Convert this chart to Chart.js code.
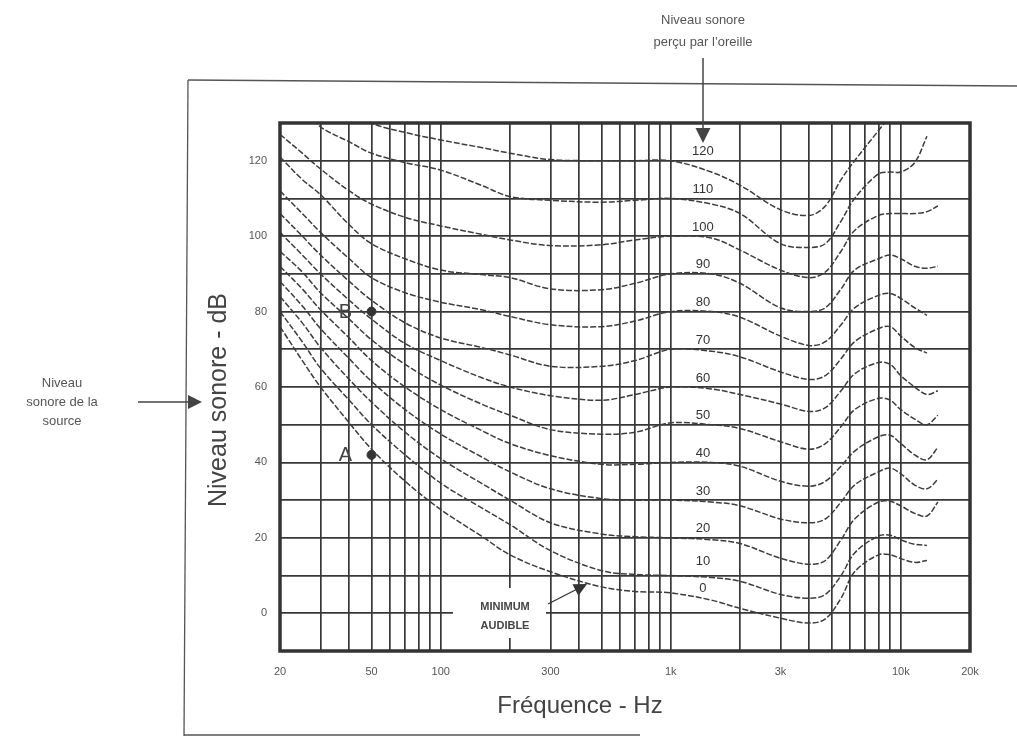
<!DOCTYPE html>
<html><head><meta charset="utf-8">
<script src="https://cdn.jsdelivr.net/npm/chart.js@4/dist/chart.umd.min.js"></script>
<style>html,body{margin:0;padding:0;background:#fff}#wrap{width:1017px;height:738px;position:relative}</style>
</head><body><div id="wrap"><canvas id="c"></canvas></div>
<script>
// ---- data ----
const frequencies = [20, 25, 30, 40, 50, 70, 100, 150, 200, 300, 500, 700, 1000, 1500, 2000, 3000, 4000, 4700, 5500, 6300, 8000, 9000, 10000, 11500, 13000, 14500];
const phon0   = [76, 67, 60, 50.5, 43.5, 35, 27.5, 20.5, 15.5, 11, 7, 5.8, 5.4, 3.5, 1.3, -1.3, -2.6, -1.5, 4, 11, 15.5, 15.5, 14.5, 13.5, 14, null];
const phon10  = [80, 72, 65, 56.5, 50, 42, 34.5, 28, 23.5, 16.6, 11.3, 10.3, 10, 9.5, 8.5, 5, 4, 5, 10, 16, 20.5, 20.7, 19.5, 18.3, 18, null];
const phon20  = [84, 77, 70.5, 62, 56, 48, 41, 34.5, 30, 24, 21, 20.3, 20, 19.5, 18.5, 14.6, 13, 14, 19.5, 25, 29.5, 29.7, 28.5, 26.5, 25.8, 29.5];
const phon30  = [88, 81.5, 75.5, 67.5, 61.5, 54, 47.5, 41.5, 37.5, 33, 30.4, 30, 30, 29.5, 28.5, 25, 24, 25, 29.5, 34, 37.5, 38.5, 37, 34, 33, 35.5];
const phon40  = [92, 86, 80.5, 73, 67, 60, 54, 48.5, 45, 41.8, 39.5, 39.5, 40, 40, 39, 35, 33.7, 35, 39, 43, 46.8, 47.2, 45, 42, 40.7, 44];
const phon50  = [96, 90.5, 85, 78, 72.5, 66, 60.5, 55.5, 52.5, 48.7, 47.5, 48, 50.5, 50, 49, 45.5, 43.5, 45, 49.5, 54, 57, 56.5, 54, 51.5, 50, 52.5];
const phon60  = [101, 95, 90, 83, 78, 71.5, 67, 62.5, 60, 57.7, 56.5, 58, 60, 59.5, 58, 55.5, 53.5, 54.5, 59, 63.5, 66.5, 66, 63, 60, 58, 59];
const phon70  = [106, 100, 95, 88, 83, 77, 73, 70.5, 68.5, 65.5, 65.5, 67, 70, 69.5, 68, 64, 62, 63, 67.5, 72, 75.5, 76, 73.5, 70.5, 69, null];
const phon80  = [112, 106, 101, 94, 89, 85, 82.5, 80.5, 78.7, 76.5, 76, 77.5, 80, 80, 78.5, 73.5, 71, 72, 76.5, 81, 84.3, 84.8, 83.5, 81, 79, null];
const phon90  = [121, 115, 111, 103, 98, 94, 91, 89.8, 89, 86, 85.8, 87.5, 90, 90, 87.5, 81, 80, 81, 86, 91, 94, 95, 94, 92, 91.5, 92];
const phon100 = [127, 122, 117.8, 112, 108.5, 105, 102.7, 100.5, 99, 97.5, 97.7, 99, 100, 99.5, 96.3, 91, 89, 90.5, 96, 101.5, 105.5, 106, 106, 106, 106.5, 108];
const phon110 = [140, 134, 129, 125, 122, 119.5, 117.5, 113.5, 110.5, 109.5, 109, 109.5, 110, 108.5, 106, 98, 97, 98, 104, 110, 116.5, 117, 117, 119.5, 126.5, null];
const phon120 = [null, null, 138, 134, 130, 127.5, 125.5, 123.5, 122, 120.3, 120, 120, 120, 117, 113.5, 107, 105.5, 108, 115, 120, 128, 132, null, null, null, null];
const curveLevels = [0, 10, 20, 30, 40, 50, 60, 70, 80, 90, 100, 110, 120];
const curveValues = [phon0, phon10, phon20, phon30, phon40, phon50, phon60, phon70, phon80, phon90, phon100, phon110, phon120];

const gridFrequencies = [20,30,40,50,60,70,80,90,100,200,300,400,500,600,700,800,900,1000,2000,3000,4000,5000,6000,7000,8000,9000,10000,20000];
const xTickLabels = {20:'20', 50:'50', 100:'100', 300:'300', 1000:'1k', 3000:'3k', 10000:'10k', 20000:'20k'};
const gridLevels = [-10,0,10,20,30,40,50,60,70,80,90,100,110,120,130];
const yTickLabels = [0,20,40,60,80,100,120];

const pointNames = ['A', 'B'];
const pointFreqs = [50, 50];
const pointLevels = [42, 80];

// ---- chart ----
const FONT = "'Liberation Sans', Arial, sans-serif";
const INK = '#383838';

const datasets = curveLevels.map((lv, i) => ({
  label: lv + ' phon',
  data: frequencies.map((f, j) => ({x: f, y: curveValues[i][j]})),
  borderColor: '#3c3c3c',
  borderWidth: 1.5,
  borderDash: [6, 2],
  pointRadius: 0,
  tension: 0.35,
  spanGaps: false,
  fill: false
}));
datasets.push({
  type: 'scatter',
  label: 'points',
  data: pointFreqs.map((f, i) => ({x: f, y: pointLevels[i]})),
  pointRadius: 4.5,
  pointBackgroundColor: '#333',
  pointBorderColor: '#333',
  showLine: false
});

function arrow(ctx, x1, y1, x2, y2, head) {
  const a = Math.atan2(y2 - y1, x2 - x1);
  ctx.beginPath(); ctx.moveTo(x1, y1); ctx.lineTo(x2 - Math.cos(a) * head * 0.8, y2 - Math.sin(a) * head * 0.8); ctx.stroke();
  ctx.beginPath();
  ctx.moveTo(x2, y2);
  ctx.lineTo(x2 - head * Math.cos(a) + head * 0.5 * Math.sin(a), y2 - head * Math.sin(a) - head * 0.5 * Math.cos(a));
  ctx.lineTo(x2 - head * Math.cos(a) - head * 0.5 * Math.sin(a), y2 - head * Math.sin(a) + head * 0.5 * Math.cos(a));
  ctx.closePath(); ctx.fill();
}

const annot = {
  id: 'annot',
  beforeDatasetsDraw(chart) {
    const ctx = chart.ctx;
    ctx.save();
    ctx.fillStyle = '#fff';
    ctx.fillRect(453, 588, 93, 50);
    ctx.restore();
  },
  afterDatasetsDraw(chart) {
    const ctx = chart.ctx, a = chart.chartArea, sx = chart.scales.x, sy = chart.scales.y;
    ctx.save();
    ctx.strokeStyle = '#333'; ctx.lineWidth = 3.5;
    ctx.strokeRect(a.left, a.top, a.right - a.left, a.bottom - a.top);
    ctx.fillStyle = '#333'; ctx.font = '13px ' + FONT; ctx.textAlign = 'center'; ctx.textBaseline = 'middle';
    curveLevels.forEach(lv => {
      const off = lv === 0 ? 6.5 : (lv === 10 ? 3.8 : 2.4);
      ctx.fillText(String(lv), sx.getPixelForValue(1380), sy.getPixelForValue(lv + off));
    });
    ctx.font = '20px ' + FONT; ctx.fillStyle = '#444';
    pointNames.forEach((n, i) => {
      ctx.fillText(n, sx.getPixelForValue(pointFreqs[i]) - 26, sy.getPixelForValue(pointLevels[i]) + 1);
    });
    ctx.font = 'bold 11px ' + FONT; ctx.fillStyle = '#444';
    ctx.fillText('MINIMUM', 505, 607);
    ctx.fillText('AUDIBLE', 505, 626);
    ctx.strokeStyle = '#333'; ctx.fillStyle = '#333'; ctx.lineWidth = 1.3;
    arrow(ctx, 548, 604, 587, 584, 13);
    ctx.restore();
  },
  afterDraw(chart) {
    const ctx = chart.ctx;
    ctx.save();
    ctx.strokeStyle = '#555'; ctx.lineWidth = 1.3;
    ctx.beginPath(); ctx.moveTo(188, 80); ctx.lineTo(1017, 86); ctx.stroke();
    ctx.beginPath(); ctx.moveTo(188, 80); ctx.lineTo(184, 736); ctx.stroke();
    ctx.beginPath(); ctx.moveTo(184, 735); ctx.lineTo(640, 735); ctx.stroke();
    ctx.fillStyle = '#444'; ctx.textAlign = 'center'; ctx.textBaseline = 'middle';
    ctx.font = '24px ' + FONT;
    ctx.fillText('Fréquence - Hz', 580, 706);
    ctx.save(); ctx.translate(219, 400); ctx.rotate(-Math.PI / 2);
    ctx.font = '25px ' + FONT;
    ctx.fillText('Niveau sonore - dB', 0, 0);
    ctx.restore();
    ctx.font = '13px ' + FONT; ctx.fillStyle = '#555';
    ctx.fillText('Niveau sonore', 703, 20);
    ctx.fillText('perçu par l\u2019oreille', 703, 42);
    ctx.fillText('Niveau', 62, 383);
    ctx.fillText('sonore de la', 62, 402);
    ctx.fillText('source', 62, 421);
    ctx.strokeStyle = '#444'; ctx.fillStyle = '#444'; ctx.lineWidth = 1.5;
    arrow(ctx, 703, 58, 703, 143, 15);
    arrow(ctx, 138, 402, 202, 402, 14);
    ctx.restore();
  }
};

new Chart(document.getElementById('c'), {
  type: 'line',
  data: {datasets},
  options: {
    responsive: true, maintainAspectRatio: false, animation: false,
    layout: {padding: {left: 200, top: 123, right: 47, bottom: 47}},
    plugins: {legend: {display: false}, tooltip: {enabled: false}},
    scales: {
      x: {
        type: 'logarithmic', min: 20, max: 20000,
        afterBuildTicks: s => { s.ticks = gridFrequencies.map(v => ({value: v})); },
        afterFit: s => { s.height = 40; },
        grid: {color: INK, lineWidth: 1.7, drawTicks: false},
        border: {display: false},
        ticks: {autoSkip: false, maxRotation: 0, minRotation: 0, padding: 14, color: '#555',
          font: {family: FONT, size: 11}, callback: v => xTickLabels[v] || ''}
      },
      y: {
        type: 'linear', min: -10, max: 130,
        afterBuildTicks: s => { s.ticks = gridLevels.map(v => ({value: v})); },
        afterFit: s => { s.width = 80; },
        grid: {color: INK, lineWidth: 1.7, drawTicks: false},
        border: {display: false},
        ticks: {autoSkip: false, padding: 13, color: '#555',
          font: {family: FONT, size: 11}, callback: v => yTickLabels.includes(v) ? String(v) : ''}
      }
    }
  },
  plugins: [annot]
});
</script>
</body></html>
